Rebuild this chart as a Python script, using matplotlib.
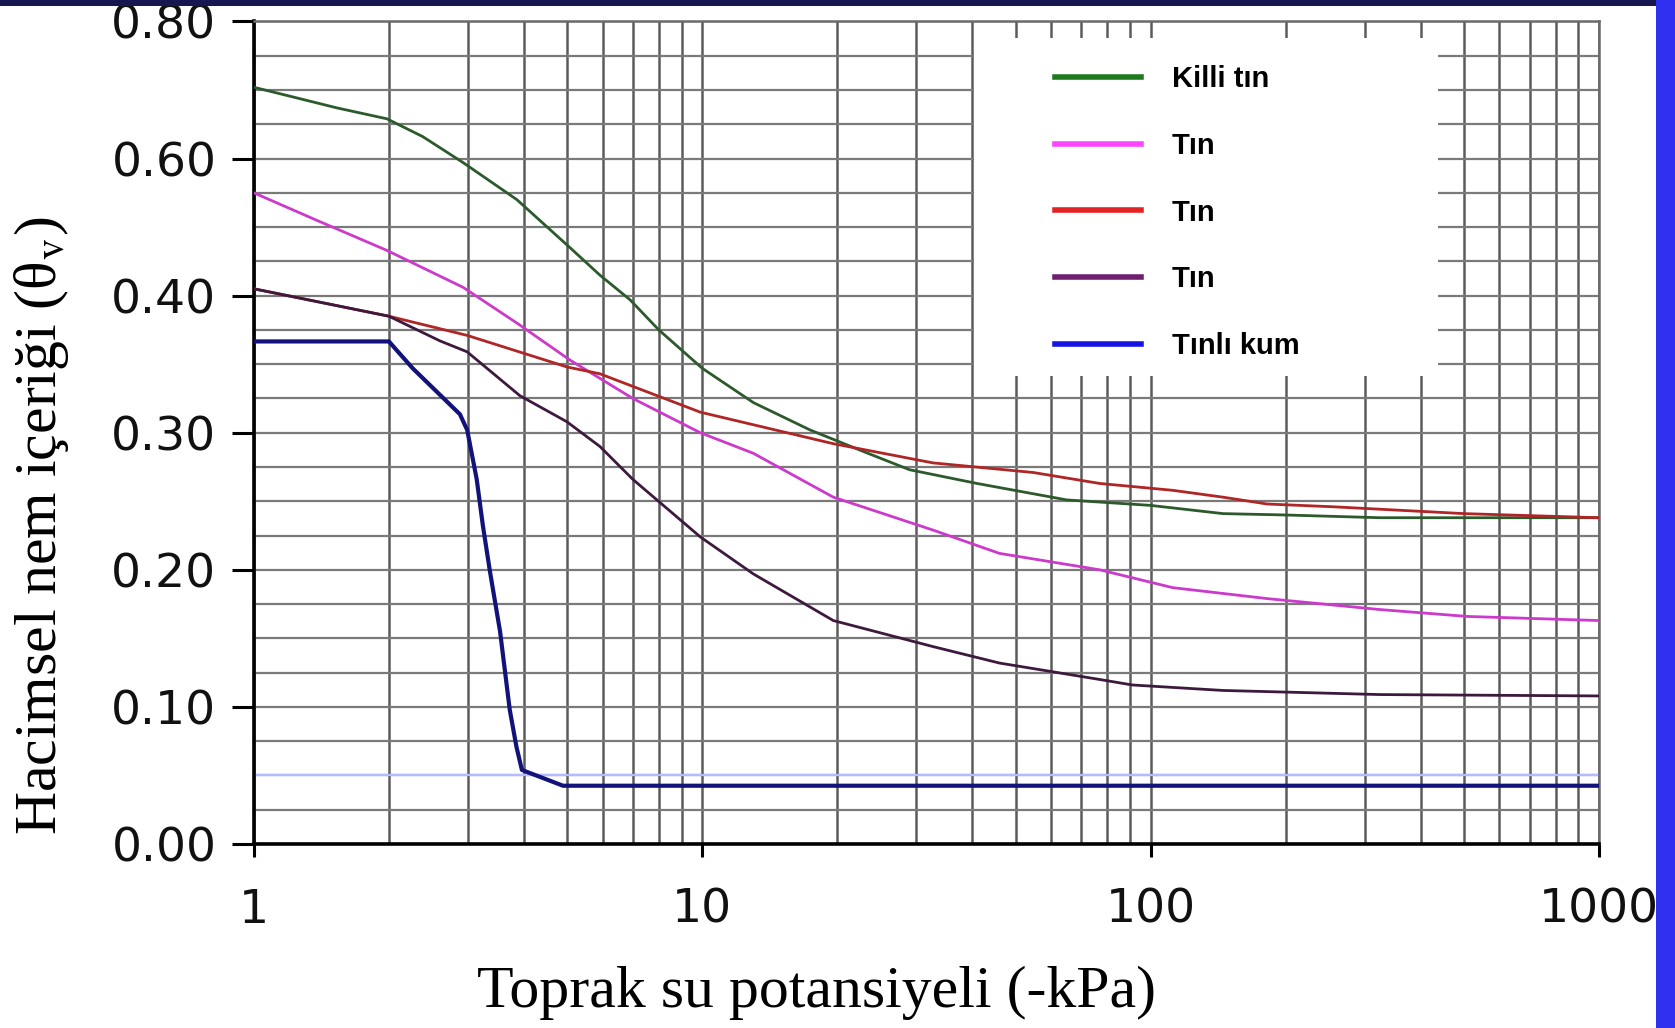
import numpy as np
import matplotlib
matplotlib.use("Agg")
import matplotlib.pyplot as plt
from matplotlib.lines import Line2D
from matplotlib.patches import Rectangle
from matplotlib.ticker import FixedLocator, FixedFormatter, MultipleLocator, NullFormatter

plt.rcParams['mathtext.fontset'] = 'stix'

# water retention curves (x = -kPa, y = theta_v)
killi_tin_x = [1, 1.22, 1.53, 1.98, 2.38, 2.93, 3.86, 5.07, 5.91, 6.9, 8.0, 10, 13, 17.4, 23, 29, 41, 65, 100, 145, 200, 325, 500, 1000]
killi_tin_y = [0.552, 0.545, 0.537, 0.529, 0.516, 0.497, 0.470, 0.435, 0.415, 0.397, 0.375, 0.347, 0.322, 0.302, 0.286, 0.273, 0.263, 0.251, 0.247, 0.241, 0.240, 0.238, 0.238, 0.238]

tin_pembe_x = [1, 1.38, 1.98, 2.93, 3.86, 5.07, 7.0, 9.9, 13, 19.6, 32.7, 46, 77, 112, 182, 325, 508, 1000]
tin_pembe_y = [0.475, 0.455, 0.433, 0.406, 0.380, 0.353, 0.325, 0.300, 0.285, 0.253, 0.229, 0.212, 0.200, 0.187, 0.179, 0.171, 0.166, 0.163]

tin_kirmizi_x = [1, 2.0, 2.99, 4.99, 5.91, 9.9, 19.6, 32.7, 54.7, 77, 112, 145, 182, 255, 500, 1000]
tin_kirmizi_y = [0.405, 0.385, 0.371, 0.348, 0.343, 0.315, 0.292, 0.278, 0.271, 0.263, 0.258, 0.253, 0.248, 0.246, 0.241, 0.238]

tin_mor_x = [1, 2.0, 2.6, 2.99, 3.92, 4.99, 5.91, 7.0, 9.9, 13, 19.6, 32.7, 46, 77, 91, 145, 325, 1000]
tin_mor_y = [0.405, 0.385, 0.367, 0.359, 0.327, 0.308, 0.290, 0.266, 0.224, 0.197, 0.163, 0.144, 0.132, 0.120, 0.116, 0.112, 0.109, 0.108]

tinli_kum_x = [1, 2.0, 2.26, 2.88, 2.99, 3.14, 3.24, 3.36, 3.54, 3.72, 3.85, 3.96, 4.89, 1000]
tinli_kum_y = [0.3666, 0.3666, 0.347, 0.3135, 0.302, 0.266, 0.2325, 0.199, 0.155, 0.098, 0.071, 0.054, 0.0425, 0.0425]

legend_labels = ['Killi tın', 'Tın', 'Tın', 'Tın', 'Tınlı kum']
legend_colors = ['#1f7a1f', '#ff44ff', '#e32222', '#6e1f6e', '#1414e6']
line_colors = ['#2c5a2c', '#cc3acc', '#b02525', '#3d1a3d', '#12127a']

y_ticks = [0.0, 0.1, 0.2, 0.3, 0.4, 0.5, 0.6]
y_tick_labels = ['0.00', '0.10', '0.20', '0.30', '0.40', '0.60', '0.80']
x_ticks = [1, 10, 100, 1000]
x_tick_labels = ['1', '10', '100', '1000']

fig = plt.figure(figsize=(16.75, 10.28), dpi=100, facecolor='white')
ax = fig.add_axes([0.1516, 0.1790, 0.8030, 0.8001])

ax.set_xscale('log')
ax.set_xlim(1, 1000)
ax.set_ylim(0, 0.6)

# grid: every log minor step and every 0.025 on y
ax.xaxis.set_major_locator(FixedLocator(x_ticks))
ax.xaxis.set_major_formatter(FixedFormatter(x_tick_labels))
minor_x = [m * d for d in [1, 10, 100] for m in range(2, 10)]
ax.xaxis.set_minor_locator(FixedLocator(minor_x))
ax.xaxis.set_minor_formatter(NullFormatter())
ax.yaxis.set_major_locator(FixedLocator(y_ticks))
ax.yaxis.set_major_formatter(FixedFormatter(y_tick_labels))
ax.yaxis.set_minor_locator(MultipleLocator(0.025))

ax.grid(True, which='both', axis='x', color='#5c5c5c', lw=1.8, zorder=0)
ax.grid(True, which='both', axis='y', color='#7a7a7a', lw=1.6, zorder=0)
ax.set_axisbelow(True)
ax.axhline(0.05, color='#b4bcff', lw=1.6, zorder=1)

# white box behind the legend
ax.add_patch(Rectangle((0.535, 0.569), 0.345, 0.411, transform=ax.transAxes,
                       facecolor='white', edgecolor='none', zorder=1.5))

series = [(killi_tin_x, killi_tin_y), (tin_pembe_x, tin_pembe_y),
          (tin_kirmizi_x, tin_kirmizi_y), (tin_mor_x, tin_mor_y),
          (tinli_kum_x, tinli_kum_y)]
for i, (xs, ys) in enumerate(series):
    lw = 3.0 if i == 4 else 2.0
    ax.plot(xs, ys, color=line_colors[i], lw=lw, zorder=3)

handles = [Line2D([], [], color=c, lw=4) for c in legend_colors]
leg = ax.legend(handles, legend_labels, loc='upper left', bbox_to_anchor=(0.5955, 0.947),
                frameon=False, prop={'family': 'Liberation Sans', 'weight': 'bold', 'size': 21},
                handlelength=2.95, handletextpad=1.05, labelspacing=1.33,
                borderpad=0, borderaxespad=0)
leg.set_zorder(4)

# spines and ticks
for s in ['left', 'bottom']:
    ax.spines[s].set_color('black')
    ax.spines[s].set_linewidth(2.6)
for s in ['top', 'right']:
    ax.spines[s].set_color('#6a6a6a')
    ax.spines[s].set_linewidth(1.8)

ax.tick_params(axis='y', which='major', length=16, width=2.2, direction='out', pad=11,
               labelsize=34, labelcolor='#111111')
ax.tick_params(axis='x', which='major', length=9.5, width=2.2, direction='out', pad=22,
               labelsize=34, labelcolor='#111111')
ax.tick_params(which='minor', length=0)
for lab in ax.get_xticklabels() + ax.get_yticklabels():
    lab.set_family('DejaVu Sans')

ax.set_xlabel('Toprak su potansiyeli (-kPa)', family='Liberation Serif', fontsize=43)
ax.set_ylabel('Hacimsel nem içeriği (θ$_{\\rm v}$)', family='Liberation Serif', fontsize=43)
ax.xaxis.set_label_coords(0.4186, -0.148)
ax.yaxis.set_label_coords(-0.136, 0.387)

# slide frame: dark strip on top, blue strip on the right
fig.add_artist(Rectangle((0, 1 - 6 / 1028), 1, 6 / 1028, transform=fig.transFigure,
                         facecolor='#161650', edgecolor='none', zorder=10))
fig.add_artist(Rectangle((1656 / 1675, 0), 19 / 1675, 1, transform=fig.transFigure,
                         facecolor='#3030f0', edgecolor='none', zorder=10))

fig.savefig('out.png', dpi=100, facecolor='white')
